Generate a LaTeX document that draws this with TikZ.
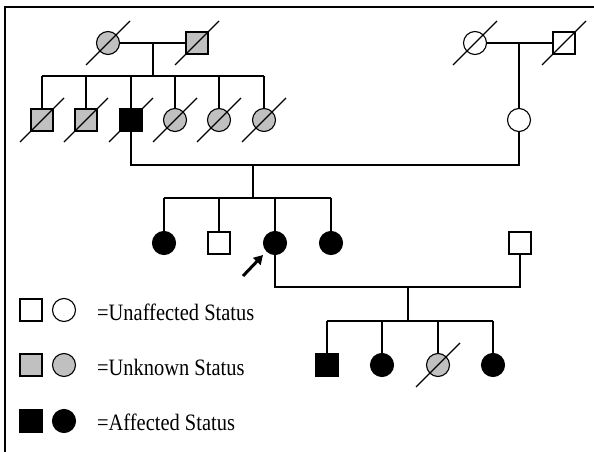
\documentclass[tikz,border=0pt]{standalone}
\usepackage{fontspec}
\setmainfont[FakeStretch=0.87]{Liberation Serif}
\usetikzlibrary{arrows.meta}
\definecolor{unkgray}{HTML}{C0C0C0}
\newcommand{\dslash}[1]{\draw[slashline] ([shift={(-22,22)}]#1.center) -- ([shift={(22,-22)}]#1.center);}
\tikzset{
  male/.style={rectangle, draw, line width=1.1pt, minimum size=22pt, inner sep=0pt, fill=white},
  female/.style={circle, draw, line width=1.1pt, minimum size=23pt, inner sep=0pt, fill=white},
  unk/.style={fill=unkgray},
  aff/.style={fill=black},
  link/.style={line width=1.2pt},
  slashline/.style={line width=1.1pt},
  legendtext/.style={anchor=base west, inner sep=0pt, font=\fontsize{23.5pt}{27pt}\selectfont},
  proarrow/.style={line width=3pt, -{Triangle[length=9pt,width=10pt]}}
}
\begin{document}
\begin{tikzpicture}[x=1pt,y=-1pt]
\useasboundingbox (0,0) rectangle (594,452);
% frame
\draw[line width=1.3pt] (5,452) -- (5,7) -- (594,7);

% Generation I
\node[female,unk] (I1) at (108,43) {};
\node[male,unk] (I2) at (197,43) {};
\node[female] (I3) at (475,43) {};
\node[male] (I4) at (564,43) {};

% Generation II
\node[male,unk] (II1) at (42,120) {};
\node[male,unk] (II2) at (86,120) {};
\node[male,aff] (II3) at (131,120) {};
\node[female,unk] (II4) at (175,120) {};
\node[female,unk] (II5) at (219,120) {};
\node[female,unk] (II6) at (264,120) {};
\node[female] (II7) at (519,120) {};

% Generation III
\node[female,aff] (III1) at (164,243) {};
\node[male] (III2) at (219,243) {};
\node[female,aff] (III3) at (275,243) {};
\node[female,aff] (III4) at (331,243) {};
\node[male] (III5) at (520,243) {};

% Generation IV
\node[male,aff] (IV1) at (327,365) {};
\node[female,aff] (IV2) at (382,365) {};
\node[female,unk] (IV3) at (438,365) {};
\node[female,aff] (IV4) at (493,365) {};

% junction coordinates
\coordinate (m1) at (153,43);
\coordinate (s1L) at (42,76);
\coordinate (s1R) at (264,76);
\coordinate (m2) at (519,43);
\coordinate (c2L) at (131,165);
\coordinate (c2R) at (519,165);
\coordinate (m3) at (253,165);
\coordinate (s3L) at (164,198);
\coordinate (s3R) at (331,198);
\coordinate (c3L) at (275,287);
\coordinate (c3R) at (520,287);
\coordinate (m4) at (408,287);
\coordinate (s4L) at (327,321);
\coordinate (s4R) at (493,321);

% Gen I connections
\draw[link] (I1) -- (I2);
\draw[link] (m1) -- (m1 |- s1L);
\draw[link] (s1L) -- (s1R);
\foreach \n in {II1,II2,II3,II4,II5,II6} {\draw[link] (\n) -- (\n |- s1L);}
\draw[link] (I3) -- (I4);
\draw[link] (m2) -- (II7);

% Gen II couple
\draw[link] (II3) -- (c2L) -- (c2R) -- (II7);
\draw[link] (m3) -- (m3 |- s3L);
\draw[link] (s3L) -- (s3R);
\foreach \n in {III1,III2,III3,III4} {\draw[link] (\n) -- (\n |- s3L);}

% Gen III couple
\draw[link] (III3) -- (c3L) -- (c3R) -- (III5);
\draw[link] (m4) -- (m4 |- s4L);
\draw[link] (s4L) -- (s4R);
\foreach \n in {IV1,IV2,IV3,IV4} {\draw[link] (\n) -- (\n |- s4L);}

% deceased slashes
\foreach \n in {I1,I2,I3,I4,II1,II2,II3,II4,II5,II6,IV3} {\dslash{\n}}

% proband arrow
\coordinate (pa) at (243,276);
\coordinate (pb) at (263,255);
\draw[proarrow] (pa) -- (pb);

% legend
\node[male] (L1) at (31,310) {};
\node[female] (L2) at (64,310) {};
\node[male,unk] (L3) at (31,365) {};
\node[female,unk] (L4) at (64,365) {};
\node[male,aff] (L5) at (31,421) {};
\node[female,aff] (L6) at (64,421) {};
\node[legendtext] (T1) at (97,320) {=Unaffected Status};
\node[legendtext] (T2) at (97,375) {=Unknown Status};
\node[legendtext] (T3) at (97,430) {=Affected Status};
\end{tikzpicture}
\end{document}
